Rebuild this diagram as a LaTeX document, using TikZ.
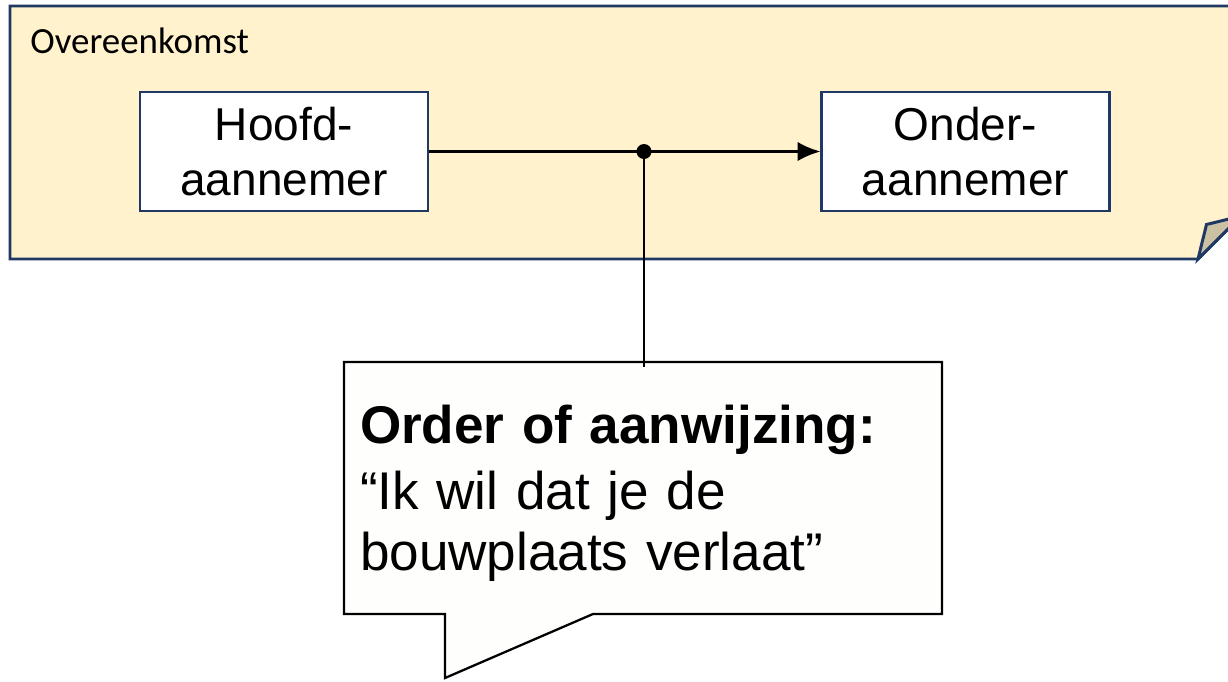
\documentclass[tikz,border=0pt]{standalone}
\usepackage{fontspec}
\usetikzlibrary{arrows.meta}
\setmainfont{Liberation Sans}
\newfontfamily\calibri{Carlito}
\definecolor{notefill}{HTML}{FFF2CC}
\definecolor{navy}{HTML}{1F3864}
\definecolor{foldfill}{HTML}{CCC2A3}
\definecolor{bubblefill}{HTML}{FEFEFC}
\tikzset{
  party/.style={draw=navy, line width=1.2pt, fill=white, minimum width=5.76cm, minimum height=2.38cm,
    align=center, inner sep=0pt, font=\fontsize{26.2}{31}\selectfont},
  notebox/.style={draw=navy, line width=1.7pt, fill=notefill, line join=miter},
  link/.style={line width=1.4pt},
}
\begin{document}
\begin{tikzpicture}
        \clip (0, 0) rectangle (24.56, -13.62);
        \useasboundingbox (0, 0) rectangle (24.56, -13.62);
        % overeenkomst note with folded corner
        \draw[notebox] (0.2, -0.12) -- (24.82, -0.12) -- (24.82, -4.32) -- (23.96, -5.18) -- (0.2, -5.18) -- cycle;
        \draw[notebox, fill=foldfill] (23.96, -5.18) -- (24.13, -4.49) -- (24.82, -4.32) -- cycle;
        \node[anchor=base west, inner sep=0pt, font=\calibri\fontsize{21}{25}\selectfont] (deal) at (0.6, -1.06) {Overeenkomst};
        % the two parties
        \node[party] (hoofd) at (5.68, -3.03) {Hoofd-\\aannemer};
        \node[party] (onder) at (19.31, -3.03) {Onder-\\aannemer};
        \draw[link, -{Latex[length=13pt, width=11pt]}] (hoofd) -- (onder);
        \coordinate (split) at (12.88, -3.03);
        \fill (split) circle (0.15);
        % callout
        \draw[link, fill=bubblefill, line width=1.3pt] (6.88, -7.24) -- (18.84, -7.24) -- (18.84, -12.28) -- (11.86, -12.28)
          -- (8.9, -13.56) -- (8.9, -12.28) -- (6.88, -12.28) -- cycle;
        \node[minimum width=11.96cm, minimum height=5.04cm, text width=11.32cm, inner sep=0pt, align=left,
          font=\fontsize{30.2}{34.7}\selectfont] (callout) at (12.86, -9.86)
          {\textbf{Order of aanwijzing:}\\[3pt]\textquotedblleft Ik wil dat je de\\bouwplaats verlaat\textquotedblright};
        \draw[link] (split) -- (split |- callout.north);
\end{tikzpicture}
\end{document}
